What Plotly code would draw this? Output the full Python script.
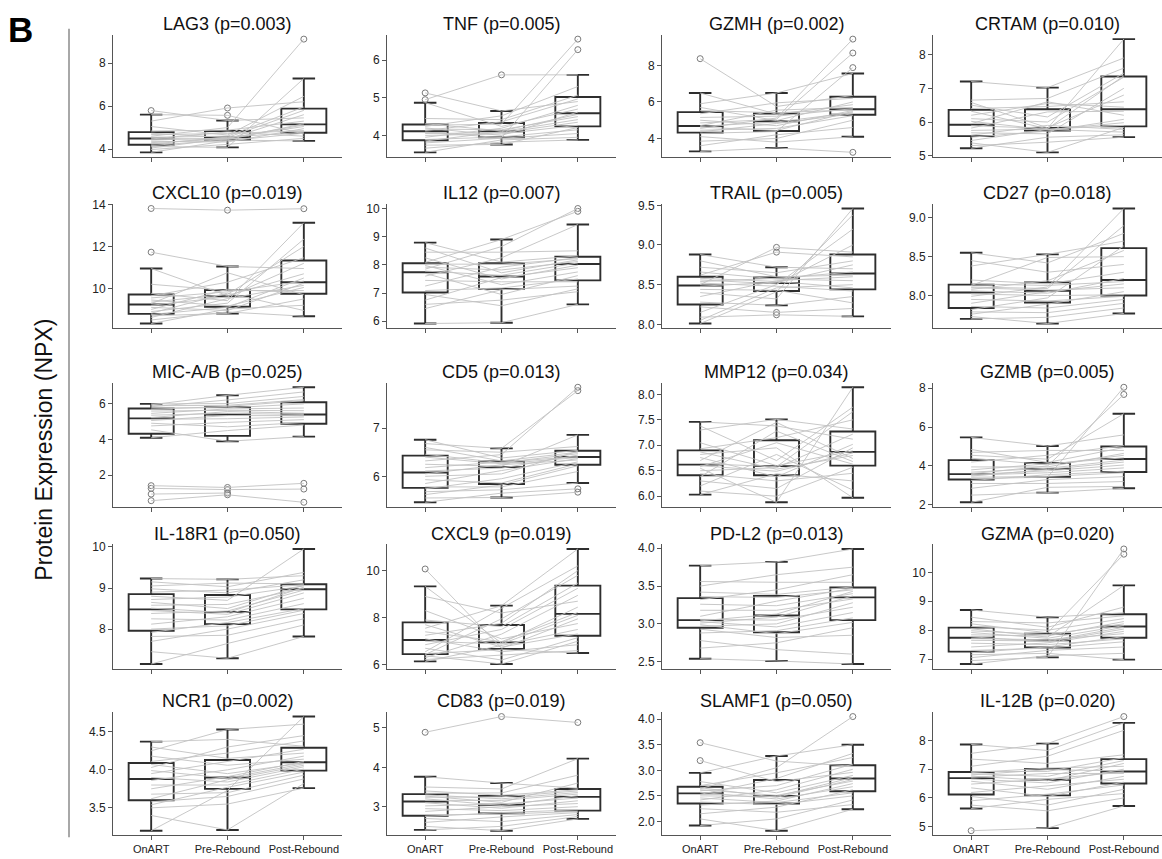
import plotly.graph_objects as go

GROUPS = ["OnART", "Pre-Rebound", "Post-Rebound"]

PROTEINS = ["LAG3", "TNF", "GZMH", "CRTAM",
            "CXCL10", "IL12", "TRAIL", "CD27",
            "MIC-A/B", "CD5", "MMP12", "GZMB",
            "IL-18R1", "CXCL9", "PD-L2", "GZMA",
            "NCR1", "CD83", "SLAMF1", "IL-12B"]
P_VALUES = ["0.003", "0.005", "0.002", "0.010",
            "0.019", "0.007", "0.005", "0.018",
            "0.025", "0.013", "0.034", "0.005",
            "0.050", "0.019", "0.013", "0.020",
            "0.002", "0.019", "0.050", "0.020"]

# per-subject NPX values (subject order), read/estimated from the figure
LAG3_ONART = [3.85, 3.98, 4.05, 4.12, 4.17, 4.23, 4.3, 4.36, 4.42, 4.47, 4.51, 4.55, 4.6, 4.68, 4.74, 4.84, 5.05, 5.3, 5.6, 5.79]
LAG3_PRE = [4.39, 4.22, 4.5, 4.08, 4.42, 4.56, 4.47, 4.33, 4.52, 4.8, 4.44, 4.6, 5.0, 4.72, 4.54, 4.88, 4.65, 5.91, 5.57, 5.33]
LAG3_POST = [4.74, 4.5, 5.12, 7.28, 4.38, 4.78, 5.6, 4.95, 5.05, 4.6, 5.18, 5.96, 9.11, 4.86, 5.8, 5.3, 6.45, 6.2, 4.7, 5.45]

TNF_ONART = [3.55, 3.66, 3.74, 3.8, 3.85, 3.89, 3.95, 4.0, 4.05, 4.09, 4.13, 4.17, 4.2, 4.24, 4.27, 4.31, 4.45, 4.87, 4.95, 5.13]
TNF_PRE = [3.88, 3.82, 3.76, 3.92, 4.1, 3.96, 4.19, 4.04, 4.07, 3.94, 4.36, 4.15, 4.0, 4.52, 4.3, 4.12, 4.42, 4.24, 5.61, 4.65]
TNF_POST = [3.95, 3.88, 4.21, 4.05, 4.42, 4.15, 4.8, 4.27, 4.35, 6.28, 4.97, 4.5, 4.62, 5.3, 6.56, 4.56, 5.07, 4.7, 5.61, 4.9]

GZMH_ONART = [3.29, 3.6, 3.85, 4.1, 4.28, 4.36, 4.45, 4.55, 4.62, 4.66, 4.7, 4.85, 5.0, 5.15, 5.35, 5.53, 5.7, 5.9, 6.49, 8.37]
GZMH_PRE = [3.48, 4.2, 4.0, 3.8, 4.38, 4.82, 4.55, 5.12, 4.44, 4.9, 5.55, 5.05, 4.7, 5.22, 5.95, 5.41, 4.98, 6.49, 5.33, 5.75]
GZMH_POST = [3.24, 4.6, 5.0, 4.09, 7.88, 5.35, 5.25, 9.44, 5.48, 5.42, 5.7, 8.68, 5.53, 5.63, 6.2, 5.57, 6.0, 7.56, 5.85, 6.36]

CRTAM_ONART = [5.22, 5.3, 5.38, 5.45, 5.55, 5.61, 5.68, 5.75, 5.82, 5.89, 5.95, 6.02, 6.1, 6.2, 6.32, 6.4, 6.5, 6.58, 6.65, 7.2]
CRTAM_PRE = [5.55, 5.4, 5.1, 5.78, 5.73, 5.9, 5.65, 5.79, 6.3, 5.81, 6.6, 5.77, 6.0, 6.55, 5.8, 6.46, 6.15, 5.83, 6.7, 7.02]
CRTAM_POST = [5.62, 5.55, 5.84, 5.7, 6.08, 5.78, 7.0, 5.9, 6.32, 8.46, 6.2, 5.98, 7.33, 6.44, 7.37, 6.6, 7.45, 6.8, 7.6, 7.9]

CXCL10_ONART = [8.33, 8.5, 8.62, 8.7, 8.76, 8.82, 8.9, 9.0, 9.1, 9.2, 9.28, 9.35, 9.45, 9.55, 9.65, 9.77, 10.2, 10.95, 11.73, 13.81]
CXCL10_PRE = [9.02, 8.88, 9.52, 8.81, 9.1, 9.78, 9.3, 9.96, 8.95, 9.6, 10.75, 9.72, 9.16, 9.84, 10.3, 9.42, 9.9, 9.66, 11.05, 13.73]
CXCL10_POST = [9.2, 8.68, 10.15, 9.5, 10.5, 8.95, 12.35, 9.8, 10.25, 11.2, 9.7, 12.0, 10.05, 10.35, 11.46, 13.13, 9.9, 10.7, 10.95, 13.8]

IL12_ONART = [5.92, 6.45, 6.6, 6.75, 6.95, 7.09, 7.25, 7.45, 7.6, 7.7, 7.78, 7.85, 7.92, 7.98, 8.03, 8.09, 8.25, 8.45, 8.6, 8.79]
IL12_PRE = [5.95, 7.12, 6.75, 7.55, 6.55, 7.18, 7.92, 7.4, 8.25, 6.95, 7.63, 8.65, 7.82, 7.3, 8.02, 8.9, 7.5, 8.45, 7.72, 8.1]
IL12_POST = [6.6, 7.25, 7.05, 7.9, 7.15, 7.5, 8.26, 7.4, 9.43, 7.62, 8.07, 10.0, 8.12, 7.75, 8.22, 9.9, 7.99, 8.5, 8.18, 8.32]

TRAIL_ONART = [8.01, 8.05, 8.09, 8.15, 8.22, 8.28, 8.35, 8.4, 8.44, 8.48, 8.5, 8.52, 8.54, 8.56, 8.58, 8.62, 8.66, 8.72, 8.8, 8.88]
TRAIL_PRE = [8.41, 8.46, 8.12, 8.5, 8.15, 8.24, 8.55, 8.32, 8.43, 8.53, 8.97, 8.48, 8.58, 8.51, 8.54, 8.91, 8.57, 8.65, 8.6, 8.72]
TRAIL_POST = [9.38, 8.5, 8.1, 9.2, 8.2, 8.35, 8.6, 9.46, 8.27, 8.75, 8.91, 8.42, 8.66, 9.0, 8.46, 8.85, 8.55, 8.8, 8.62, 8.7]

CD27_ONART = [7.7, 7.73, 7.76, 7.79, 7.82, 7.86, 7.9, 7.95, 7.99, 8.02, 8.06, 8.08, 8.1, 8.11, 8.13, 8.15, 8.2, 8.38, 8.45, 8.55]
CD27_PRE = [7.72, 7.64, 7.89, 7.78, 7.97, 7.84, 8.05, 7.93, 8.11, 8.0, 8.03, 8.19, 8.07, 8.09, 8.49, 8.13, 8.15, 8.53, 8.3, 8.42]
CD27_POST = [7.84, 7.77, 8.05, 7.9, 8.64, 7.95, 8.15, 7.99, 9.12, 8.01, 8.22, 8.58, 8.1, 8.9, 8.5, 8.18, 8.3, 8.7, 8.4, 8.8]

MICAB_ONART = [0.57, 0.94, 1.26, 1.41, 4.09, 4.53, 4.75, 4.9, 5.05, 5.12, 5.22, 5.35, 5.45, 5.58, 5.68, 5.76, 5.82, 5.88, 5.93, 5.98]
MICAB_PRE = [0.9, 1.0, 1.19, 1.31, 4.49, 3.89, 4.95, 4.7, 5.33, 5.15, 5.55, 5.45, 5.7, 5.62, 5.84, 5.76, 6.2, 5.9, 6.46, 6.0]
MICAB_POST = [0.48, None, 1.22, 1.54, 4.8, 4.15, 5.1, 4.94, 5.32, 5.25, 5.46, 5.39, 5.75, 5.6, 6.16, 5.98, 6.65, 6.22, 6.91, 6.4]

CD5_ONART = [5.46, 5.55, 5.62, 5.68, 5.74, 5.78, 5.85, 5.93, 6.0, 6.05, 6.11, 6.18, 6.25, 6.32, 6.4, 6.46, 6.55, 6.6, 6.68, 6.76]
CD5_PRE = [5.65, 5.56, 5.82, 5.72, 5.95, 5.78, 6.12, 5.86, 6.05, 6.24, 6.17, 6.3, 6.21, 6.45, 6.26, 6.28, 6.5, 6.32, 6.58, 6.38]
CD5_POST = [5.74, 5.67, 6.22, 5.86, 6.3, 6.1, 6.37, 6.26, 6.52, 6.34, 6.44, 6.41, 6.86, 7.85, 6.39, 6.47, 6.62, 6.5, 7.78, 6.54]

MMP12_ONART = [6.03, 6.1, 6.2, 6.3, 6.38, 6.44, 6.5, 6.55, 6.58, 6.6, 6.64, 6.7, 6.76, 6.82, 6.87, 6.93, 7.05, 7.3, 7.38, 7.46]
MMP12_PRE = [6.44, 6.0, 6.82, 6.15, 7.28, 6.3, 6.56, 5.88, 7.05, 6.49, 6.58, 7.45, 6.38, 6.95, 6.53, 7.15, 6.6, 7.51, 6.7, 7.38]
MMP12_POST = [6.3, 6.57, 6.12, 6.95, 6.68, 6.45, 7.22, 8.14, 6.63, 6.85, 7.66, 6.74, 7.02, 5.97, 6.8, 7.5, 6.89, 7.32, 7.75, 7.12]

GZMB_ONART = [2.13, 2.5, 2.85, 3.1, 3.25, 3.35, 3.42, 3.48, 3.53, 3.56, 3.6, 3.68, 3.8, 3.95, 4.2, 4.4, 4.55, 4.7, 4.85, 5.47]
GZMB_PRE = [2.9, 2.63, 3.3, 3.1, 3.55, 3.42, 3.46, 3.82, 3.65, 3.75, 4.0, 3.88, 4.12, 3.95, 4.55, 4.06, 4.35, 4.8, 4.18, 5.03]
GZMB_POST = [2.95, 2.85, 3.45, 3.2, 3.73, 8.05, 3.65, 4.2, 3.9, 4.05, 7.68, 4.3, 4.42, 4.65, 5.05, 4.55, 6.69, 4.8, 4.95, 5.6]

IL18R1_ONART = [7.15, 7.45, 7.7, 7.82, 7.92, 8.0, 8.12, 8.25, 8.38, 8.45, 8.51, 8.58, 8.65, 8.72, 8.8, 8.9, 8.98, 9.05, 9.15, 9.23]
IL18R1_PRE = [7.65, 7.29, 8.0, 7.85, 8.16, 8.08, 8.3, 8.22, 8.44, 8.36, 8.4, 8.6, 8.5, 8.78, 8.7, 8.95, 8.88, 9.12, 9.03, 9.21]
IL18R1_POST = [8.1, 7.82, 8.38, 8.25, 8.5, 8.46, 8.75, 8.62, 8.95, 8.88, 9.02, 8.99, 9.07, 9.05, 9.95, 9.08, 9.2, 9.1, 9.38, 9.3]

CXCL9_ONART = [6.14, 6.22, 6.3, 6.38, 6.43, 6.47, 6.55, 6.7, 6.85, 7.0, 7.1, 7.25, 7.4, 7.55, 7.7, 7.9, 8.3, 8.9, 9.33, 10.07]
CXCL9_PRE = [6.82, 6.4, 7.3, 6.03, 7.95, 6.64, 8.4, 6.2, 7.5, 6.88, 6.55, 7.76, 6.98, 8.51, 6.75, 7.62, 7.1, 8.2, 6.92, 6.7]
CXCL9_POST = [7.5, 6.6, 8.95, 7.0, 9.8, 6.5, 10.2, 7.15, 9.25, 8.1, 6.85, 10.0, 8.22, 10.92, 7.31, 9.47, 7.75, 8.7, 8.45, 7.95]

PDL2_ONART = [2.54, 2.68, 2.78, 2.88, 2.93, 2.97, 2.99, 3.01, 3.03, 3.04, 3.06, 3.1, 3.18, 3.26, 3.32, 3.36, 3.42, 3.5, 3.56, 3.77]
PDL2_PRE = [2.51, 2.75, 2.66, 2.91, 2.82, 3.0, 2.87, 3.09, 2.96, 3.13, 3.05, 3.3, 3.18, 3.24, 3.45, 3.35, 3.39, 3.65, 3.55, 3.82]
PDL2_POST = [2.47, 2.95, 2.6, 3.08, 2.85, 3.28, 3.02, 3.37, 3.15, 3.43, 3.22, 3.47, 3.33, 3.4, 3.65, 3.45, 3.49, 3.75, 3.55, 3.99]

GZMA_ONART = [6.83, 6.95, 7.05, 7.15, 7.22, 7.3, 7.42, 7.55, 7.65, 7.71, 7.77, 7.84, 7.92, 7.98, 8.05, 8.13, 8.22, 8.3, 8.45, 8.7]
GZMA_PRE = [7.12, 7.06, 7.3, 7.2, 7.42, 7.38, 7.56, 7.5, 7.63, 7.67, 7.6, 7.8, 7.72, 7.85, 7.76, 8.0, 7.91, 8.25, 8.1, 8.45]
GZMA_POST = [7.2, 10.81, 7.42, 6.98, 7.78, 7.6, 7.96, 7.7, 8.1, 7.88, 8.04, 8.3, 8.16, 8.22, 9.55, 8.4, 10.63, 8.5, 8.8, 8.6]

NCR1_ONART = [3.2, 3.4, 3.5, 3.54, 3.58, 3.62, 3.68, 3.75, 3.8, 3.86, 3.9, 3.95, 3.99, 4.03, 4.07, 4.11, 4.18, 4.25, 4.3, 4.37]
NCR1_PRE = [3.73, 3.21, 3.55, 3.77, 3.65, 3.87, 3.7, 3.91, 3.8, 4.0, 3.84, 4.11, 3.89, 4.3, 3.95, 4.22, 4.06, 4.53, 4.15, 4.4]
NCR1_POST = [4.7, 3.82, 3.76, 3.97, 3.88, 4.06, 3.93, 4.11, 4.01, 4.18, 4.04, 4.27, 4.08, 4.45, 4.09, 4.38, 4.14, 4.6, 4.22, 4.31]

CD83_ONART = [2.41, 2.5, 2.6, 2.7, 2.75, 2.79, 2.88, 2.95, 3.02, 3.1, 3.16, 3.2, 3.24, 3.27, 3.3, 3.34, 3.4, 3.5, 3.76, 4.89]
CD83_PRE = [2.5, 2.39, 2.74, 2.62, 2.85, 2.81, 3.0, 2.9, 3.07, 2.96, 3.16, 3.03, 3.25, 3.11, 3.2, 3.35, 3.29, 3.45, 3.6, 5.29]
CD83_POST = [2.75, 2.69, 2.85, 2.8, 2.92, 2.88, 3.08, 3.0, 3.22, 3.15, 3.32, 3.28, 3.4, 3.6, 3.36, 3.8, 3.43, 4.22, 3.47, 5.14]

SLAMF1_ONART = [1.92, 2.05, 2.15, 2.25, 2.32, 2.38, 2.42, 2.46, 2.5, 2.53, 2.57, 2.6, 2.62, 2.64, 2.66, 2.7, 2.78, 2.95, 3.19, 3.54]
SLAMF1_PRE = [2.05, 1.82, 2.28, 2.18, 2.4, 2.33, 2.62, 2.37, 2.49, 2.84, 2.44, 2.7, 2.51, 3.05, 2.47, 2.95, 2.56, 3.28, 2.78, 3.18]
SLAMF1_POST = [2.42, 2.24, 2.62, 2.33, 2.74, 2.5, 3.02, 2.56, 2.86, 3.33, 2.68, 3.12, 2.79, 4.05, 2.82, 3.25, 2.9, 3.5, 2.96, 3.08]

IL12B_ONART = [4.86, 5.63, 5.75, 5.9, 6.05, 6.19, 6.35, 6.48, 6.58, 6.66, 6.72, 6.76, 6.8, 6.84, 6.88, 6.92, 7.1, 7.35, 7.55, 7.86]
IL12B_PRE = [4.95, 5.95, 5.55, 6.13, 5.75, 6.42, 6.05, 6.66, 6.3, 6.52, 6.85, 6.6, 6.98, 6.75, 7.04, 6.92, 7.45, 7.2, 7.89, 7.65]
IL12B_POST = [5.72, 6.15, 6.0, 6.45, 6.3, 6.65, 6.55, 6.9, 6.75, 7.0, 6.85, 7.2, 6.94, 7.3, 7.1, 7.4, 8.35, 7.5, 8.83, 8.61]

Y_TICKS = [[4, 6, 8], [4, 5, 6], [4, 6, 8], [5, 6, 7, 8],
           [10, 12, 14], [6, 7, 8, 9, 10], [8.0, 8.5, 9.0, 9.5], [8.0, 8.5, 9.0],
           [2, 4, 6], [6, 7], [6.0, 6.5, 7.0, 7.5, 8.0], [2, 4, 6, 8],
           [8, 9, 10], [6, 8, 10], [2.5, 3.0, 3.5, 4.0], [7, 8, 9, 10],
           [3.5, 4.0, 4.5], [3, 4, 5], [2.0, 2.5, 3.0, 3.5, 4.0], [5, 6, 7, 8, 9]]
Y_TICK_LABELS = [["4", "6", "8"], ["4", "5", "6"], ["4", "6", "8"], ["5", "6", "7", "8"],
                 ["10", "12", "14"], ["6", "7", "8", "9", "10"], ["8.0", "8.5", "9.0", "9.5"], ["8.0", "8.5", "9.0"],
                 ["2", "4", "6"], ["6", "7"], ["6.0", "6.5", "7.0", "7.5", "8.0"], ["2", "4", "6", "8"],
                 ["8", "9", "10"], ["6", "8", "10"], ["2.5", "3.0", "3.5", "4.0"], ["7", "8", "9", "10"],
                 ["3.5", "4.0", "4.5"], ["3", "4", "5"], ["2.0", "2.5", "3.0", "3.5", "4.0"], ["5", "6", "7", "8", "9"]]

DATA = [
    (LAG3_ONART, LAG3_PRE, LAG3_POST), (TNF_ONART, TNF_PRE, TNF_POST),
    (GZMH_ONART, GZMH_PRE, GZMH_POST), (CRTAM_ONART, CRTAM_PRE, CRTAM_POST),
    (CXCL10_ONART, CXCL10_PRE, CXCL10_POST), (IL12_ONART, IL12_PRE, IL12_POST),
    (TRAIL_ONART, TRAIL_PRE, TRAIL_POST), (CD27_ONART, CD27_PRE, CD27_POST),
    (MICAB_ONART, MICAB_PRE, MICAB_POST), (CD5_ONART, CD5_PRE, CD5_POST),
    (MMP12_ONART, MMP12_PRE, MMP12_POST), (GZMB_ONART, GZMB_PRE, GZMB_POST),
    (IL18R1_ONART, IL18R1_PRE, IL18R1_POST), (CXCL9_ONART, CXCL9_PRE, CXCL9_POST),
    (PDL2_ONART, PDL2_PRE, PDL2_POST), (GZMA_ONART, GZMA_PRE, GZMA_POST),
    (NCR1_ONART, NCR1_PRE, NCR1_POST), (CD83_ONART, CD83_PRE, CD83_POST),
    (SLAMF1_ONART, SLAMF1_PRE, SLAMF1_POST), (IL12B_ONART, IL12B_PRE, IL12B_POST),
]

W, H = 1162, 859
FONT = "Liberation Sans, Arial, Helvetica, sans-serif"
COL_LEFT = [113, 387, 662, 933]
PANEL_W = 229
ROW_TOP = [29, 200.7, 382, 546, 716]
ROW_BOT = [153, 326.7, 508, 672, 841]

fig = go.Figure()
layout_axes = {}
annotations = []

for i, (name, pval, series) in enumerate(zip(PROTEINS, P_VALUES, DATA)):
    r, c = divmod(i, 4)
    k = i + 1
    xa = "x" if k == 1 else f"x{k}"
    ya = "y" if k == 1 else f"y{k}"

    # subject lines
    lx, ly = [], []
    n = len(series[0])
    for s in range(n):
        for t in range(3):
            lx.append(t)
            ly.append(series[t][s])
        lx.append(None)
        ly.append(None)
    fig.add_trace(go.Scatter(x=lx, y=ly, mode="lines",
                             line=dict(color="#c2c2c2", width=0.9),
                             xaxis=xa, yaxis=ya, hoverinfo="skip",
                             showlegend=False, connectgaps=False))

    # boxes
    bx, by = [], []
    for t in range(3):
        for v in series[t]:
            if v is not None:
                bx.append(t)
                by.append(v)
    fig.add_trace(go.Box(x=bx, y=by, boxpoints="outliers", quartilemethod="inclusive",
                         fillcolor="rgba(0,0,0,0)",
                         line=dict(color="#2e2e2e", width=1.9),
                         marker=dict(symbol="circle-open", size=6, color="#7a7a7a"),
                         whiskerwidth=0.5, pointpos=0, jitter=0,
                         xaxis=xa, yaxis=ya, showlegend=False, hoverinfo="skip"))

    vals = [v for ser in series for v in ser if v is not None]
    lo, hi = min(vals), max(vals)
    pad = 0.04 * (hi - lo)

    x0 = COL_LEFT[c] / W
    x1 = min((COL_LEFT[c] + PANEL_W) / W, 1.0)
    y0 = 1 - ROW_BOT[r] / H
    y1 = 1 - ROW_TOP[r] / H

    axis_common = dict(showline=True, linecolor="#555555", linewidth=1,
                       ticks="outside", ticklen=4, tickwidth=1, tickcolor="#555555",
                       showgrid=False, zeroline=False, fixedrange=True)
    layout_axes["xaxis" if k == 1 else f"xaxis{k}"] = dict(
        domain=[x0, x1], anchor=ya, range=[-0.5, 2.5],
        tickmode="array", tickvals=[0, 1, 2], ticktext=GROUPS,
        showticklabels=(r == 4),
        tickfont=dict(family=FONT, size=11, color="#222222"), **axis_common)
    layout_axes["yaxis" if k == 1 else f"yaxis{k}"] = dict(
        domain=[y0, y1], anchor=xa, range=[lo - pad, hi + pad],
        tickmode="array", tickvals=Y_TICKS[i], ticktext=Y_TICK_LABELS[i],
        tickfont=dict(family=FONT, size=12, color="#222222"), **axis_common)

    annotations.append(dict(text=f"{name} (p={pval})", x=(x0 + (COL_LEFT[c] + PANEL_W) / W) / 2,
                            y=1 - (ROW_TOP[r] - 11) / H, xref="paper", yref="paper",
                            xanchor="center", yanchor="middle", showarrow=False,
                            font=dict(family=FONT, size=18, color="#111111")))

annotations.append(dict(text="Protein Expression (NPX)", textangle=-90,
                        x=44 / W, y=1 - 450 / H, xref="paper", yref="paper",
                        xanchor="center", yanchor="middle", showarrow=False,
                        font=dict(family=FONT, size=23, color="#111111")))
annotations.append(dict(text="<b>B</b>", x=6 / W, y=1 - 24 / H, xref="paper", yref="paper",
                        xanchor="left", yanchor="middle", showarrow=False,
                        font=dict(family=FONT, size=35, color="#000000")))

fig.update_layout(
    width=W, height=H, margin=dict(l=0, r=0, t=0, b=0),
    paper_bgcolor="white", plot_bgcolor="white",
    boxgap=0.41, boxgroupgap=0, showlegend=False,
    font=dict(family=FONT),
    annotations=annotations,
    shapes=[dict(type="line", xref="paper", yref="paper",
                 x0=69 / W, x1=69 / W, y0=1 - 23 / H, y1=1 - 843 / H,
                 line=dict(color="#a8a8a8", width=2))],
    **layout_axes,
)

fig.write_html("out.html", config={"displayModeBar": False},
               post_script="document.body.style.margin='0';document.body.style.padding='0';"
                           "document.body.style.overflow='hidden';")
